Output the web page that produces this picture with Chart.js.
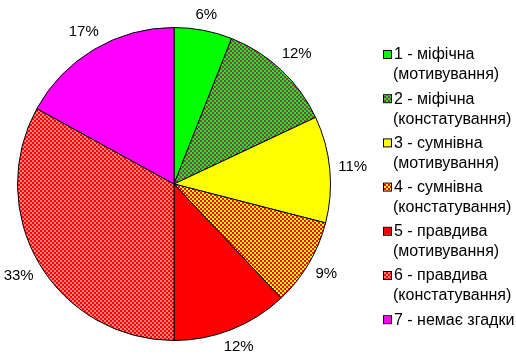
<!DOCTYPE html>
<html>
<head>
<meta charset="utf-8">
<script src="https://cdn.jsdelivr.net/npm/chart.js@4.4.0/dist/chart.umd.min.js"></script>
<style>
    body { margin: 0; background: #fff; }
    #wrap { width: 516px; height: 354px; }
</style>
</head>
<body>
<div id="wrap"><canvas id="pieChart" width="516" height="354"></canvas></div>
<script>
// data
const labels = [
    ['1 - міфічна', '(мотивування)'],
    ['2 - міфічна', '(констатування)'],
    ['3 - сумнівна', '(мотивування)'],
    ['4 - сумнівна', '(констатування)'],
    ['5 - правдива', '(мотивування)'],
    ['6 - правдива', '(констатування)'],
    ['7 - немає згадки']
];
const values = [6, 12, 11, 9, 12, 33, 17];
const valueLabels = ['6%', '12%', '11%', '9%', '12%', '33%', '17%'];

// fills: plain colour or two-colour checker
const fills = [
    ['#00ff00'],
    ['#00ff00', '#993366'],
    ['#ffff00'],
    ['#ffff00', '#ff0000'],
    ['#ff0000'],
    ['#ff0000', '#ff8080'],
    ['#ff00ff']
];

function makeFill(ctx, f) {
    if (f.length === 1) return f[0];
    const c = document.createElement('canvas');
    c.width = 4;
    c.height = 4;
    const g = c.getContext('2d');
    g.fillStyle = f[0];
    g.fillRect(0, 0, 4, 4);
    g.fillStyle = f[1];
    g.fillRect(0, 0, 2, 2);
    g.fillRect(2, 2, 2, 2);
    return ctx.createPattern(c, 'repeat');
}

const canvas = document.getElementById('pieChart');
const ctx2d = canvas.getContext('2d');
const bg = fills.map(f => makeFill(ctx2d, f));
const FONT = '15px "Liberation Sans", Arial, sans-serif';
const LEGEND_FONT = '16px "Liberation Sans", Arial, sans-serif';

const extras = {
    id: 'extras',
    afterDraw(chart) {
        const ctx = chart.ctx;
        const meta = chart.getDatasetMeta(0);
        ctx.save();
        ctx.font = FONT;
        ctx.fillStyle = '#000';
        ctx.textAlign = 'center';
        ctx.textBaseline = 'middle';
        // percentage labels outside the pie
        meta.data.forEach((arc, i) => {
            const mid = (arc.startAngle + arc.endAngle) / 2;
            const w = ctx.measureText(valueLabels[i]).width;
            const h = 12;
            const c = Math.cos(mid), s = Math.sin(mid);
            const r = arc.outerRadius + 8 + Math.abs(c) * w / 2 + Math.abs(s) * h / 2;
            ctx.fillText(valueLabels[i], arc.x + c * r, arc.y + s * r);
        });

        // legend
        ctx.font = LEGEND_FONT;
        ctx.textAlign = 'left';
        labels.forEach((lines, i) => {
            const y = 55 + i * 44.2;
            ctx.fillStyle = bg[i];
            ctx.fillRect(384, y - 4, 7, 7);
            ctx.strokeStyle = '#000';
            ctx.lineWidth = 1;
            ctx.strokeRect(383.5, y - 4.5, 8, 8);
            ctx.fillStyle = '#000';
            lines.forEach((t, j) => {
                ctx.fillText(t, j === 0 ? 394 : 393, y + j * 20);
            });
        });
        ctx.restore();
    }
};

new Chart(canvas, {
    type: 'pie',
    data: {
        labels: labels,
        datasets: [{
            data: values,
            backgroundColor: bg,
            borderColor: '#000',
            borderWidth: 1
        }]
    },
    options: {
        responsive: false,
        animation: false,
        layout: {
            padding: { left: 17, right: 185, top: 27, bottom: 13 }
        },
        plugins: {
            legend: { display: false },
            tooltip: { enabled: false }
        }
    },
    plugins: [extras]
});
</script>
</body>
</html>
